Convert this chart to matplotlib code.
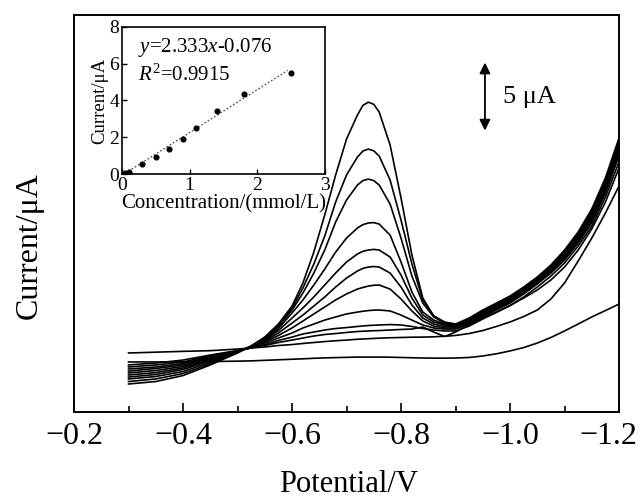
import matplotlib
matplotlib.use('Agg')
import matplotlib.pyplot as plt
from matplotlib.ticker import FixedLocator, FuncFormatter
from matplotlib.transforms import ScaledTranslation

plt.rcParams['font.family'] = ['Liberation Serif', 'DejaVu Serif']
plt.rcParams['mathtext.fontset'] = 'custom'
plt.rcParams['mathtext.rm'] = 'Liberation Serif'
plt.rcParams['mathtext.it'] = 'Liberation Serif:italic'

# ---- main voltammograms (potential in V, current in uA) ----
potential = [-0.30, -0.35, -0.40, -0.45, -0.50, -0.525, -0.55, -0.575, -0.60,
             -0.62, -0.64, -0.66, -0.68, -0.70, -0.72, -0.73, -0.74, -0.75, -0.76, -0.78,
             -0.80, -0.82, -0.84, -0.86, -0.88, -0.90, -0.925, -0.95, -0.975,
             -1.00, -1.025, -1.05, -1.075, -1.10, -1.125, -1.15, -1.175, -1.20]

i_blank = [3.68, 3.68, 3.69, 3.71, 3.74, 3.76, 3.80, 3.84, 3.88,
           3.91, 3.95, 3.98, 4.00, 4.02, 4.04, 4.04, 4.04, 4.04, 4.04, 4.03,
           4.01, 3.99, 3.97, 3.96, 3.96, 3.97, 4.01, 4.12, 4.28,
           4.49, 4.74, 5.07, 5.48, 5.96, 6.47, 6.99, 7.46, 7.94]
i_c0 = [4.34, 4.40, 4.46, 4.51, 4.63, 4.71, 4.78, 4.89, 4.96,
        5.04, 5.11, 5.18, 5.24, 5.29, 5.35, 5.37, 5.39, 5.41, 5.43, 5.46,
        5.48, 5.50, 5.51, 5.53, 5.57, 5.63, 5.77, 5.99, 6.29,
        6.62, 7.02, 7.50, 8.31, 9.49, 11.10, 12.79, 14.63, 16.62]
i_c1 = [3.46, 3.60, 3.82, 4.19, 4.52, 4.71, 4.89, 5.11, 5.29,
        5.44, 5.59, 5.70, 5.77, 5.85, 5.92, 5.94, 5.96, 5.98, 5.99, 6.03,
        6.07, 6.10, 6.25, 5.88, 5.55, 5.88, 6.43, 6.91, 7.35,
        7.83, 8.38, 8.97, 9.71, 10.66, 11.91, 13.46, 15.44, 17.94]
i_c2 = [3.31, 3.46, 3.68, 4.12, 4.49, 4.71, 4.96, 5.26, 5.51,
        5.74, 5.88, 6.03, 6.14, 6.21, 6.29, 6.33, 6.36, 6.38, 6.40, 6.43,
        6.40, 6.29, 6.14, 6.03, 5.96, 5.96, 6.32, 6.84, 7.32,
        7.83, 8.46, 9.19, 10.00, 10.96, 12.21, 13.68, 15.81, 18.38]
i_c3 = [3.16, 3.31, 3.57, 4.04, 4.49, 4.74, 5.07, 5.44, 5.81,
        6.18, 6.47, 6.76, 6.99, 7.21, 7.35, 7.41, 7.46, 7.49, 7.50, 7.43,
        7.13, 6.76, 6.40, 6.18, 6.10, 6.10, 6.47, 6.99, 7.50,
        8.01, 8.68, 9.41, 10.22, 11.18, 12.43, 13.93, 16.10, 18.82]
i_c4 = [3.01, 3.20, 3.46, 3.97, 4.49, 4.78, 5.15, 5.63, 6.18,
        6.69, 7.21, 7.72, 8.24, 8.68, 9.04, 9.16, 9.26, 9.32, 9.34, 9.04,
        8.31, 7.43, 6.69, 6.32, 6.18, 6.18, 6.54, 7.06, 7.57,
        8.09, 8.75, 9.49, 10.29, 11.25, 12.54, 14.04, 16.25, 18.97]
i_c5 = [2.87, 3.05, 3.35, 3.90, 4.45, 4.78, 5.22, 5.81, 6.54,
        7.13, 7.79, 8.46, 9.19, 9.85, 10.37, 10.56, 10.66, 10.70, 10.66, 10.22,
        9.19, 7.87, 6.91, 6.47, 6.29, 6.25, 6.62, 7.13, 7.65,
        8.16, 8.82, 9.56, 10.37, 11.36, 12.65, 14.19, 16.40, 19.12]
i_c6 = [2.72, 2.90, 3.24, 3.82, 4.45, 4.82, 5.29, 5.99, 6.91,
        7.65, 8.46, 9.34, 10.22, 11.03, 11.62, 11.82, 11.91, 11.96, 11.91, 11.40,
        10.07, 8.38, 7.13, 6.62, 6.40, 6.32, 6.69, 7.21, 7.72,
        8.24, 8.90, 9.63, 10.48, 11.47, 12.76, 14.34, 16.54, 19.26]
i_c7 = [2.57, 2.76, 3.13, 3.75, 4.41, 4.82, 5.37, 6.14, 7.28,
        8.24, 9.34, 10.51, 11.76, 12.79, 13.53, 13.78, 13.90, 13.93, 13.82, 13.01,
        11.03, 8.82, 7.35, 6.76, 6.47, 6.36, 6.76, 7.28, 7.79,
        8.31, 8.97, 9.71, 10.55, 11.58, 12.87, 14.49, 16.69, 19.49]
i_c8 = [2.43, 2.61, 2.98, 3.64, 4.41, 4.85, 5.44, 6.29, 7.50,
        8.75, 10.22, 11.91, 13.97, 15.59, 16.69, 17.02, 17.13, 17.02, 16.69, 15.29,
        12.79, 10.00, 8.01, 6.99, 6.54, 6.40, 6.80, 7.35, 7.87,
        8.38, 9.04, 9.78, 10.63, 11.69, 12.98, 14.63, 16.84, 19.63]
i_c9 = [2.24, 2.43, 2.83, 3.53, 4.38, 4.85, 5.48, 6.36, 7.65,
        9.12, 10.88, 12.94, 15.44, 17.43, 18.75, 19.19, 19.34, 19.21, 18.82, 17.06,
        14.12, 10.88, 8.24, 7.06, 6.58, 6.43, 6.84, 7.43, 7.94,
        8.46, 9.12, 9.85, 10.74, 11.80, 13.09, 14.78, 16.99, 19.85]
i_c10 = [2.06, 2.24, 2.68, 3.46, 4.34, 4.85, 5.51, 6.47, 7.79,
         9.49, 11.76, 14.49, 17.43, 20.07, 21.84, 22.55, 22.79, 22.63, 22.06, 19.63,
         15.74, 11.54, 8.38, 7.06, 6.62, 6.47, 6.91, 7.50, 8.01,
         8.53, 9.19, 9.93, 10.81, 11.91, 13.24, 14.93, 17.21, 20.15]

curves = [i_blank, i_c0, i_c1, i_c2, i_c3, i_c4, i_c5, i_c6, i_c7, i_c8, i_c9, i_c10]

# ---- inset calibration ----
conc = [0.05, 0.1, 0.3, 0.5, 0.7, 0.9, 1.1, 1.4, 1.8, 2.5]
peak_current = [0.05, 0.1, 0.52, 0.94, 1.38, 1.92, 2.52, 3.42, 4.36, 5.50]
fit_slope = 2.333
fit_intercept = -0.076
fit_range = [0.05, 2.45]

x_ticks = [-0.2, -0.4, -0.6, -0.8, -1.0, -1.2]
x_minor = [-0.3, -0.5, -0.7, -0.9, -1.1]

# scale bar
bar_potential = -0.954
bar_low, bar_high = 20.7, 25.7

fig = plt.figure(figsize=(6.42, 4.98), dpi=100)
ax = fig.add_axes([0.1153, 0.1727, 0.8489, 0.7972])

for c in curves:
    ax.plot(potential, c, color='black', lw=1.2, solid_joinstyle='round')

ax.set_xlim(-0.2, -1.2)
ax.set_ylim(0, 29.2)
ax.xaxis.set_major_locator(FixedLocator(x_ticks))
ax.xaxis.set_minor_locator(FixedLocator(x_minor))
ax.xaxis.set_major_formatter(FuncFormatter(lambda v, p: ('\u2212%.1f' % abs(v)) if v < 0 else '%.1f' % v))
ax.tick_params(axis='x', which='major', direction='in', length=6.5, width=1.2, labelsize=23, pad=7)
ax.tick_params(axis='x', which='minor', direction='in', length=4.5, width=1.2)
ax.set_yticks([])
for s in ax.spines.values():
    s.set_linewidth(1.4)

ax.set_xlabel('Potential/V', fontsize=22)
ax.xaxis.set_label_coords(0.503, -0.145)
ax.set_ylabel('Current/\u03bcA', fontsize=23)
ax.yaxis.set_label_coords(-0.055, 0.42)

ax.annotate('', xy=(bar_potential, bar_high), xytext=(bar_potential, bar_low),
            arrowprops=dict(arrowstyle='<|-|>', color='black', lw=1.3, mutation_scale=16,
                            shrinkA=0, shrinkB=0))
ax.text(-0.987, (bar_low + bar_high) / 2, '5 \u03bcA', fontsize=19, va='center', ha='left')

# ---- inset ----
ins = fig.add_axes([0.190, 0.6506, 0.3162, 0.2952])
ins.plot(fit_range, [fit_slope * x + fit_intercept for x in fit_range],
         linestyle=(0, (1.2, 1.5)), color='#555555', lw=1.0)
ins.plot(conc, peak_current, 'o', color='black', markersize=3.4)
ins.set_xlim(0, 3)
ins.set_ylim(0, 8)
ins.set_xticks([0, 1, 2, 3])
ins.set_yticks([0, 2, 4, 6, 8])
ins.tick_params(direction='in', length=3.5, width=1.0, labelsize=14, pad=2)
for s in ins.spines.values():
    s.set_linewidth(1.2)
ins.set_xlabel('Concentration/(mmol/L)', fontsize=15, labelpad=0)
ins.set_ylabel('Current/\u03bcA', fontsize=13.5, labelpad=1)
ins.text(0.24, 6.9, '$y$=2.333$x$-0.076', fontsize=15, va='center', ha='left')
ins.text(0.24, 5.4, '$R^2$=0.9915', fontsize=15, va='center', ha='left')

fig.canvas.draw()
last = ax.xaxis.get_majorticklabels()[-1]
last.set_transform(last.get_transform() + ScaledTranslation(-11 / 100, 0, fig.dpi_scale_trans))

fig.savefig('out.png', dpi=100)
